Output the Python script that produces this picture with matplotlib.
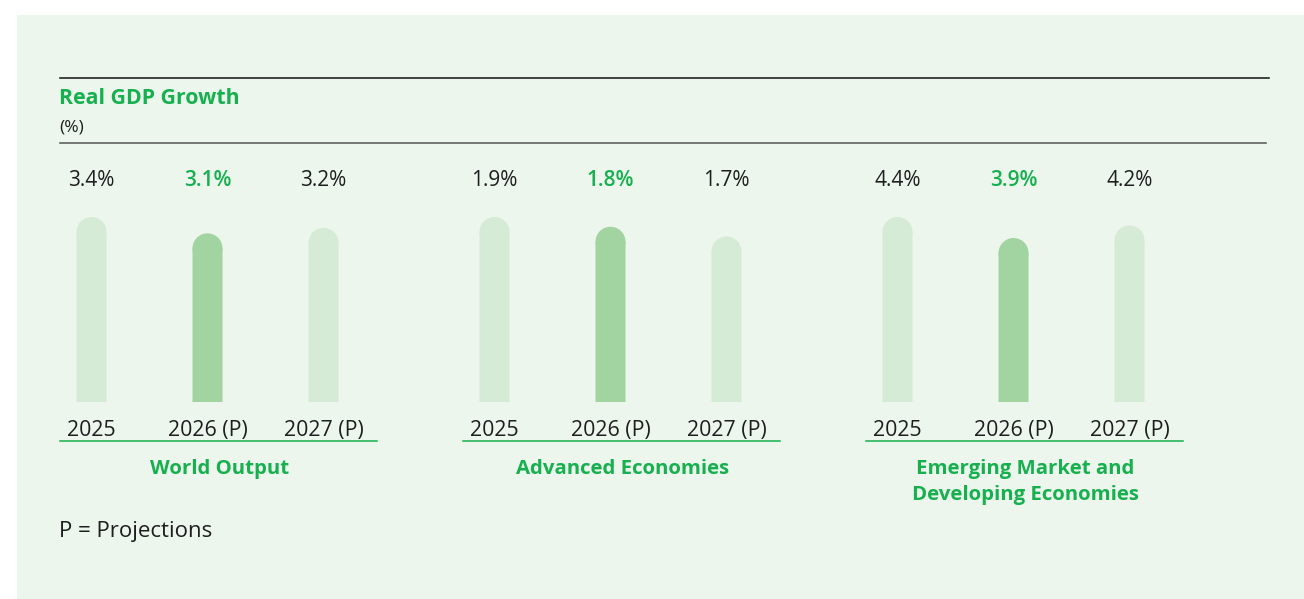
import matplotlib.pyplot as plt
from matplotlib.patches import Rectangle, Ellipse

plt.rcParams['font.family'] = ['Open Sans', 'DejaVu Sans']

# real GDP growth, %, per group
groups = ['World Output', 'Advanced Economies', 'Emerging Market and\nDeveloping Economies']
years = ['2025', '2026 (P)', '2027 (P)']
world = [3.4, 3.1, 3.2]
advanced = [1.9, 1.8, 1.7]
emerging = [4.4, 3.9, 4.2]
series = [world, advanced, emerging]
highlight = 1  # index of the current-year projection

GREEN = '#17b04f'
LIGHT = '#d5ebd6'
DARK = '#a1d4a0'
PANEL = '#ecf6ed'
INK = '#1e1e1e'

W, H = 1304, 599
fig = plt.figure(figsize=(W / 100, H / 100), dpi=100)
fig.patch.set_facecolor('white')

# decoration layer in pixel units
deco = fig.add_axes([0, 0, 1, 1])
deco.set_xlim(0, W)
deco.set_ylim(H, 0)
deco.axis('off')
deco.add_patch(Rectangle((17, 15), W - 17, H - 15, color=PANEL, lw=0, zorder=0))
deco.plot([60, 1269], [78, 78], color='#111111', lw=1.1)
deco.plot([60, 1266], [143, 143], color='#555555', lw=1.1)
deco.text(59, 104.5, 'Real GDP Growth', color=GREEN, fontsize=15.3, fontweight='bold', va='baseline')
deco.text(59, 128, '(%)', color=INK, fontsize=12.5, va='center')
deco.text(59, 536.5, 'P = Projections', color=INK, fontsize=16, va='baseline')

# one small axes per group, bars scaled to the group maximum
base_px, full_px = 402, 185
first_centre = 91.5
step = 116
gap = 403
bar_w = 30 / step
cap = 15 / full_px

for g, vals in enumerate(series):
    left = first_centre + g * gap - step / 2
    ax = fig.add_axes([left / W, (H - base_px) / H, 3 * step / W, full_px / H])
    ax.set_xlim(-0.5, 2.5)
    ax.set_ylim(0, 1)
    ax.axis('off')
    tr = ax.get_xaxis_transform()
    vmax = max(vals)
    for i, v in enumerate(vals):
        h = v / vmax
        col = DARK if i == highlight else LIGHT
        ax.bar(i, h - cap, width=bar_w, color=col, lw=0, align='center', snap=False, zorder=2)
        ax.add_patch(Ellipse((i, h - cap), bar_w, 2 * cap, facecolor=col, lw=0, zorder=2))
        ax.text(i, (base_px - 186.5) / full_px, f'{v:.1f}%', transform=tr, ha='center', va='baseline',
                fontsize=15, color=GREEN if i == highlight else INK,
                fontweight='semibold' if i == highlight else 'normal', clip_on=False)
        ax.text(i, (base_px - 436) / full_px, years[i], transform=tr, ha='center', va='baseline',
                fontsize=15.3, color=INK, clip_on=False)
    ax.plot([-0.27, 2.465], [(base_px - 441) / full_px] * 2, transform=tr, color=GREEN,
            lw=1.1, clip_on=False)
    for k, line in enumerate(groups[g].split('\n')):
        ax.text(1.1, (base_px - 474 - 26 * k) / full_px, line, transform=tr, ha='center',
                va='baseline', fontsize=14.7, fontweight='bold', color=GREEN, clip_on=False)

fig.savefig('out.png', dpi=100, facecolor=fig.get_facecolor())
